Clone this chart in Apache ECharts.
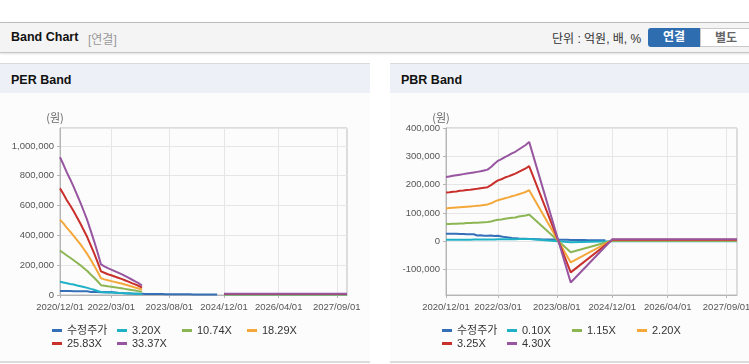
<!DOCTYPE html>
<html>
<head>
<meta charset="utf-8">
<script src="https://cdn.jsdelivr.net/npm/echarts@6/dist/echarts.min.js"></script>
<style>
  body { margin: 0; width: 749px; height: 364px; overflow: hidden; background: #fff; position: relative;
         font-family: "Liberation Sans", "Noto Sans CJK KR", sans-serif; }
  .head { position: absolute; left: 0; top: 22px; width: 760px; height: 29px; background: #f4f4f4;
          border-top: 1px solid #bdbdbd; border-bottom: 1px solid #c6c6c6; box-shadow: 0 1px 2px rgba(0,0,0,.12); }
  .head .ttl { position: absolute; left: 11px; top: 7px; font-size: 12.5px; font-weight: bold; color: #111; }
  .head .sub { position: absolute; left: 88px; top: 7px; font-size: 12px; color: #999; }
  .head .unit { position: absolute; left: 552px; top: 6px; font-size: 12px; color: #333; }
  .btn { position: absolute; top: 5px; height: 19px; width: 52px; line-height: 18px; text-align: center;
         font-size: 12px; font-weight: bold; box-sizing: border-box; }
  .btn.on { left: 648px; background: #2f6db1; color: #fff; border-radius: 3px 0 0 3px; }
  .btn.off { left: 700px; background: #fff; color: #666; border: 1px solid #c9c9c9; }
  .panel { position: absolute; top: 63px; width: 370px; height: 297px; background: #fcfcfc;
           border-top: 1px solid #d9d9d9; border-bottom: 2px solid #dcdcdc; }
  .ptitle { height: 27px; line-height: 29px; padding-top: 2px; background: #edf1f7; padding-left: 11px;
            font-size: 12.5px; font-weight: bold; color: #111; }
  .chart { width: 370px; height: 268px; }
</style>
</head>
<body>
<div class="head">
  <span class="ttl">Band Chart</span>
  <span class="sub">[연결]</span>
  <span class="unit">단위 : 억원, 배, %</span>
  <div class="btn on">연결</div>
  <div class="btn off">별도</div>
</div>
<div class="panel" style="left:0">
  <div class="ptitle">PER Band</div>
  <div id="per" class="chart"></div>
</div>
<div class="panel" style="left:390px">
  <div class="ptitle">PBR Band</div>
  <div id="pbr" class="chart"></div>
</div>
<script>
// 월별 카테고리 2020/12/01 ~ 2027/12/01
var months = [];
for (var y = 2020, m = 12; y * 100 + m <= 202712; m++) {
    if (m > 12) { m = 1; y++; }
    months.push(y + '/' + (m < 10 ? '0' + m : m) + '/01');
}
var tickLabels = ['2020/12/01', '2022/03/01', '2023/08/01', '2024/12/01', '2026/04/01', '2027/09/01'];
var knotMonths = ['2023/12/01', '2024/12/01', '2027/12/01'];

var colors = ['#356fb7', '#1fb2c7', '#8cb653', '#f4a83a', '#c9302c', '#97569f'];
var perNames = ['수정주가', '3.20X', '10.74X', '18.29X', '25.83X', '33.37X'];
var pbrNames = ['수정주가', '0.10X', '1.15X', '2.20X', '3.25X', '4.30X'];

// 수정주가 2020/12 ~ 2024/10
var priceAdj = [26000, 26000, 26000, 26000, 25500, 25500, 25000, 25000, 24500, 20000, 21000, 19500,
    19000, 20500, 18500, 19500, 17000, 14500, 13000, 11500, 10500, 9500, 9000, 8500, 8000, 7500,
    7000, 6800, 6500, 6200, 6000, 5800, 5500, 5200, 5000, 4800, 4500, 4300, 4200, 4000, 3900,
    3800, 3700, 3600, 3500, 3400, 3300];

// PER 밴드 2020/12 ~ 2022/12
var per320 = [89000, 84000, 79000, 74000, 70000, 64000, 59000, 54000, 48000, 41000, 35000, 27000,
    20000, 18000, 17000, 16000, 15000, 14000, 13000, 12000, 11000, 10000, 9000, 8000, 6000];
var per1074 = [298000, 282000, 265000, 250000, 233000, 216000, 199000, 180000, 161000, 138000, 116000, 92000,
    66000, 62000, 58000, 55000, 52000, 48000, 45000, 41000, 37000, 33000, 30000, 26000, 21000];
var per1829 = [506000, 480000, 450000, 425000, 397000, 368000, 339000, 307000, 274000, 236000, 197000, 156000,
    112000, 105000, 99000, 93000, 88000, 82000, 77000, 70000, 64000, 57000, 50000, 44000, 35000];
var per2583 = [715000, 677000, 636000, 600000, 561000, 520000, 478000, 433000, 387000, 333000, 279000, 221000,
    159000, 149000, 139000, 132000, 124000, 116000, 108000, 99000, 90000, 80000, 71000, 62000, 50000];
var per3337 = [924000, 875000, 822000, 775000, 725000, 672000, 618000, 560000, 500000, 430000, 360000, 285000,
    205000, 192000, 180000, 170000, 160000, 150000, 140000, 128000, 116000, 104000, 92000, 80000, 64000];
// 2024/12 이후
var perTail = [800, 2800, 4800, 6700, 8700];

// PBR 밴드 2020/12 ~ 2022/12
var pbr010 = [5300, 5300, 5400, 5400, 5500, 5500, 5600, 5600, 5700, 5700, 5800, 5800,
    5900, 6100, 6400, 6600, 6800, 6900, 7100, 7200, 7400, 7500, 7700, 7900, 8200];
var pbr115 = [61000, 61000, 62000, 62000, 63000, 63000, 64000, 64000, 65000, 65000, 66000, 67000,
    68000, 70000, 73000, 76000, 77000, 79000, 81000, 83000, 84000, 87000, 89000, 91000, 94000];
var pbr220 = [116000, 117000, 118000, 119000, 120000, 121000, 122000, 123000, 124000, 125000, 126000, 128000,
    130000, 134000, 140000, 145000, 148000, 152000, 155000, 159000, 162000, 166000, 170000, 174000, 180000];
var pbr325 = [172000, 173000, 175000, 176000, 178000, 179000, 181000, 182000, 184000, 185000, 187000, 189000,
    191000, 198000, 207000, 215000, 219000, 225000, 229000, 234000, 239000, 245000, 251000, 257000, 265000];
var pbr430 = [227000, 229000, 231000, 233000, 235000, 237000, 239000, 241000, 243000, 245000, 247000, 250000,
    253000, 262000, 274000, 284000, 290000, 297000, 303000, 310000, 316000, 324000, 332000, 340000, 351000];
// 2023/12, 2024/12, 2027/12
var pbrKnots = [
    [-3400, 200, 200],
    [-39000, 1900, 1900],
    [-75000, 3600, 3600],
    [-110000, 5300, 5300],
    [-146000, 7000, 7000]
];

function seq(start, vals) {
    return vals.map(function (v, i) { return [start + i, v]; });
}
function at(month, v) { return [months.indexOf(month), v]; }

var perData = [seq(0, priceAdj)];
[per320, per1074, per1829, per2583, per3337].forEach(function (h, k) {
    perData.push(seq(0, h).concat([at(knotMonths[0], null), at(knotMonths[1], perTail[k]), at(knotMonths[2], perTail[k])]));
});
var pbrData = [seq(0, priceAdj)];
[pbr010, pbr115, pbr220, pbr325, pbr430].forEach(function (h, k) {
    pbrData.push(seq(0, h).concat(knotMonths.map(function (mo, j) { return at(mo, pbrKnots[k][j]); })));
});

function isTick(idx) { return tickLabels.indexOf(months[idx]) >= 0; }
function fmt(v) { return v.toLocaleString('en-US'); }

var axisFont = '"Liberation Sans", sans-serif';

function makeOption(names, data, gridLeft, yAxis) {
    return {
        animation: false,
        color: colors,
        grid: { left: gridLeft, right: 23, top: 35, bottom: 66, show: true, borderColor: '#bdbdbd', borderWidth: 1 },
        legend: {
            data: names, left: 52, top: 232, width: 270, padding: 0, itemGap: 2,
            icon: 'rect', itemWidth: 10, itemHeight: 3,
            textStyle: { fontSize: 11, lineHeight: 11, width: 48, color: '#333',
                fontFamily: '"Liberation Sans", "Noto Sans CJK KR", sans-serif' }
        },
        xAxis: {
            type: 'category', data: months, boundaryGap: false,
            axisLine: { onZero: false, lineStyle: { color: '#b5b5b5' } },
            axisTick: { interval: isTick, length: 3, lineStyle: { color: '#b5b5b5' } },
            axisLabel: { interval: isTick, showMinLabel: true, hideOverlap: false, margin: 7,
                fontSize: 9.5, color: '#555', fontFamily: axisFont },
            splitLine: { show: true, interval: isTick, lineStyle: { color: '#e6e6e6' } }
        },
        yAxis: Object.assign({
            type: 'value', name: '(원)', nameLocation: 'end', nameGap: 5,
            nameTextStyle: { color: '#666', fontSize: 11, padding: [0, 10, 0, 0],
                fontFamily: '"Noto Sans CJK KR", sans-serif' },
            axisLine: { show: true, lineStyle: { color: '#b5b5b5' } },
            splitLine: { lineStyle: { color: '#e6e6e6' } }
        }, yAxis),
        series: data.map(function (d, i) {
            return {
                name: names[i], type: 'line', data: d, showSymbol: false,
                lineStyle: { width: 2 }, color: colors[i]
            };
        })
    };
}

var pbrTicks = [-100000, 0, 100000, 200000, 300000, 400000];

echarts.init(document.getElementById('per')).setOption(makeOption(perNames, perData, 60, {
    min: 0, max: 1120000, interval: 200000,
    axisTick: { show: true, length: 3, lineStyle: { color: '#b5b5b5' } },
    axisLabel: { formatter: fmt, showMaxLabel: false, margin: 6, fontSize: 9.5, color: '#555', fontFamily: axisFont }
}));

echarts.init(document.getElementById('pbr')).setOption(makeOption(pbrNames, pbrData, 56, {
    min: -190000, max: 400000,
    axisTick: { show: true, length: 3, customValues: pbrTicks, lineStyle: { color: '#b5b5b5' } },
    axisLabel: { formatter: fmt, customValues: pbrTicks, margin: 6, fontSize: 9.5, color: '#555', fontFamily: axisFont }
}));
</script>
</body>
</html>
